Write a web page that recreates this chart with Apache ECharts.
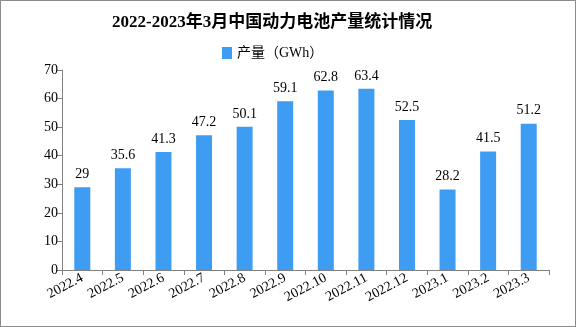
<!DOCTYPE html>
<html>
<head>
<meta charset="utf-8">
<script src="https://cdn.jsdelivr.net/npm/echarts@6/dist/echarts.min.js"></script>
<style>
  html, body { margin: 0; padding: 0; background: #fff; }
  #chart { width: 574px; height: 325px; border: 1px solid #8c8c8c; }
</style>
</head>
<body>
<div id="chart"></div>
<script>
// Monthly power battery output, GWh
const months = ['2022.4', '2022.5', '2022.6', '2022.7', '2022.8', '2022.9', '2022.10', '2022.11', '2022.12', '2023.1', '2023.2', '2023.3'];
const output = [29, 35.6, 41.3, 47.2, 50.1, 59.1, 62.8, 63.4, 52.5, 28.2, 41.5, 51.2];
const yTicks = { min: 0, max: 70, interval: 10 };

const serif = '"Liberation Serif", "DejaVu Serif", "Noto Sans CJK SC", serif';
const chart = echarts.init(document.getElementById('chart'));
chart.setOption({
  animation: false,
  title: {
    text: '2022-2023年3月中国动力电池产量统计情况',
    left: 106,
    top: 8,
    textStyle: { fontFamily: serif, fontSize: 17, fontWeight: 'bold', color: '#000' }
  },
  legend: {
    top: 40,
    left: 216,
    icon: 'rect',
    itemWidth: 10,
    itemHeight: 12,
    itemGap: 4,
    textStyle: { fontFamily: serif, fontSize: 14, color: '#000' },
    data: ['产量（GWh）']
  },
  grid: { left: 61, right: 26, top: 69, bottom: 56 },
  xAxis: {
    type: 'category',
    data: months,
    axisLine: { lineStyle: { color: '#808080', width: 1 } },
    axisTick: { show: true, length: 5, lineStyle: { color: '#808080' } },
    axisLabel: {
      rotate: 28,
      interval: 0,
      margin: 7,
      fontFamily: serif,
      fontSize: 14,
      color: '#000'
    }
  },
  yAxis: {
    type: 'value',
    min: yTicks.min,
    max: yTicks.max,
    interval: yTicks.interval,
    splitLine: { show: false },
    axisLine: { show: true, lineStyle: { color: '#808080', width: 1 } },
    axisTick: { show: true, length: 5, lineStyle: { color: '#808080' } },
    axisLabel: { fontFamily: serif, fontSize: 14, color: '#000', margin: 4 }
  },
  series: [{
    name: '产量（GWh）',
    type: 'bar',
    data: output,
    barWidth: 16,
    itemStyle: { color: '#3e9df3' },
    label: {
      show: true,
      position: 'top',
      distance: 6,
      fontFamily: serif,
      fontSize: 14,
      color: '#000'
    }
  }]
});
</script>
</body>
</html>
